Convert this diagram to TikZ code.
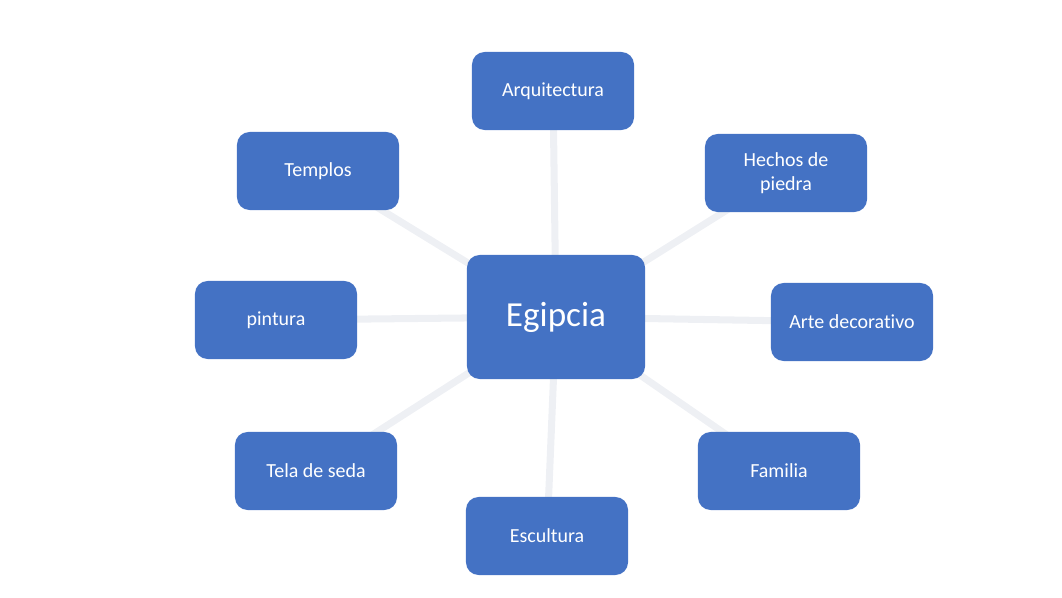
\documentclass[tikz,border=0pt]{standalone}
\usepackage{fontspec}
\setmainfont{Carlito}[Ligatures={NoCommon}]
\usetikzlibrary{positioning,backgrounds}
\definecolor{boxblue}{HTML}{4472C4}
\definecolor{linkgray}{HTML}{EEF0F4}
\tikzset{
  topic/.style={draw=none,fill=boxblue,rounded corners=9pt,text=white,
    minimum width=4.05cm,minimum height=1.95cm,align=center,font=\fontsize{14.2}{17}\selectfont},
  hub/.style={topic,minimum width=4.45cm,minimum height=3.1cm,font=\fontsize{25}{30}\selectfont},
  link/.style={linkgray,line width=5pt,line cap=round}
}
\begin{document}
\begin{tikzpicture}[x=0.025cm,y=-0.025cm]
    \useasboundingbox (0,0) rectangle (1062,597);
    \node[hub] (egipcia) at (556,317){Egipcia};
    \node[topic] (arq) at (553,91){Arquitectura};
    \node[topic] (templos) at (318,171){Templos};
    \node[topic] (piedra) at (786,173){Hechos de\\piedra};
    \node[topic] (pintura) at (276,320){pintura};
    \node[topic] (arte) at (852,322){Arte decorativo};
    \node[topic] (tela) at (316,471){Tela de seda};
    \node[topic] (familia) at (779,471){Familia};
    \node[topic] (escultura) at (547,536){Escultura};
    \begin{pgfonlayer}{background}
      \foreach \t in {arq,templos,piedra,pintura,arte,tela,familia,escultura}
        \draw[link] (egipcia.center) -- (\t.center);
    \end{pgfonlayer}
  \end{tikzpicture}
\end{document}
